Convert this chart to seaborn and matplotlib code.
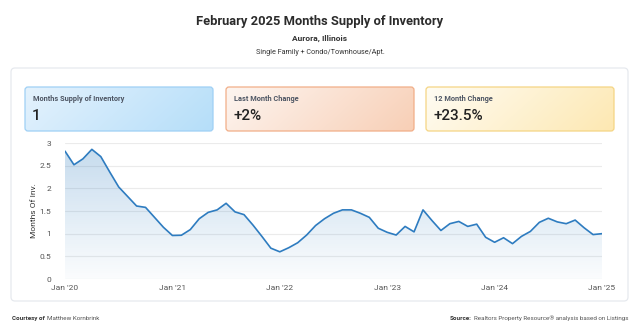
import numpy as np
import pandas as pd
import matplotlib
matplotlib.use("Agg")
import matplotlib.pyplot as plt
from matplotlib.patches import FancyBboxPatch
from matplotlib.colors import LinearSegmentedColormap
import seaborn as sns

# ---------------- data ----------------
tick_labels = ["Jan '20", "Jan '21", "Jan '22", "Jan '23", "Jan '24", "Jan '25"]
months_supply = [
    2.82, 2.52, 2.65, 2.86, 2.70, 2.36, 2.03, 1.82, 1.61, 1.58, 1.36, 1.14,   # 2020
    0.96, 0.965, 1.09, 1.33, 1.47, 1.525, 1.67, 1.48, 1.42, 1.19, 0.94, 0.68,  # 2021
    0.60, 0.69, 0.80, 0.97, 1.18, 1.33, 1.45, 1.525, 1.525, 1.45, 1.36, 1.12,  # 2022
    1.03, 0.97, 1.16, 1.04, 1.525, 1.29, 1.07, 1.22, 1.27, 1.16, 1.21, 0.92,   # 2023
    0.81, 0.91, 0.78, 0.94, 1.05, 1.25, 1.34, 1.26, 1.22, 1.30, 1.13, 0.98,    # 2024
    1.00,                                                                      # 2025
]
card_titles = ["Months Supply of Inventory", "Last Month Change", "12 Month Change"]
card_values = ["1", "+2%", "+23.5%"]
y_ticks = [0, 0.5, 1, 1.5, 2, 2.5, 3]
y_tick_labels = ["0", "0.5", "1", "1.5", "2", "2.5", "3"]

df = pd.DataFrame({"month": np.arange(len(months_supply)), "value": months_supply})

# ---------------- style ----------------
sns.set_theme(style="white")
plt.rcParams["font.family"] = ["Roboto", "DejaVu Sans"]

W, H = 640, 336
fig = plt.figure(figsize=(W / 100, H / 100), dpi=100)
fig.patch.set_facecolor("white")

# background / layout axes in pixel coordinates
bg = fig.add_axes([0, 0, 1, 1])
bg.set_xlim(0, W)
bg.set_ylim(H, 0)
bg.axis("off")

# titles
bg.text(320, 22, "February 2025 Months Supply of Inventory", ha="center", va="center",
        fontsize=9.3, fontweight="bold", color="#2b2b2b")
bg.text(320, 38, "Aurora, Illinois", ha="center", va="center",
        fontsize=6.0, fontweight="bold", color="#333333")
bg.text(320, 52, "Single Family + Condo/Townhouse/Apt.", ha="center", va="center",
        fontsize=5.2, color="#333333")

# outer card
outer = FancyBboxPatch((11, 68), 617, 233, boxstyle="round,pad=0,rounding_size=4",
                       facecolor="white", edgecolor="#e6e9ee", linewidth=0.9)
bg.add_patch(outer)

# metric cards with gradients
card_specs = [
    (25, ("#e4f2fd", "#b5def9"), "#9fd0f5"),
    (226, ("#fdf5f0", "#f8cfb6"), "#f1ae88"),
    (426, ("#fffcf3", "#fde8b2"), "#f5d584"),
]
cw, ch, cy = 188, 44, 87
for (cx, (c0, c1), ec), title, val in zip(card_specs, card_titles, card_values):
    box = FancyBboxPatch((cx, cy), cw, ch, boxstyle="round,pad=0,rounding_size=3",
                         facecolor="none", edgecolor=ec, linewidth=0.9, zorder=3)
    bg.add_patch(box)
    cmap = LinearSegmentedColormap.from_list("g", [c0, c1])
    xx = np.linspace(0, 1, 200)
    yy = np.linspace(0, 1, 50)
    grad = (xx[None, :] * 0.8 + yy[:, None] * 0.2)
    im = bg.imshow(grad, cmap=cmap, extent=(cx, cx + cw, cy + ch, cy), aspect="auto",
                   origin="upper", zorder=2, interpolation="bilinear")
    im.set_clip_path(box)
    bg.text(cx + 8, cy + 12, title, ha="left", va="center", fontsize=5.3,
            fontweight="bold", color="#4d5563", zorder=4)
    bg.text(cx + 7, cy + 28.5, val, ha="left", va="center", fontsize=11,
            fontweight="medium", color="#222222", zorder=4)

# footer (baseline-aligned, measured placement)
renderer = fig.canvas.get_renderer()
fy = 320
t1 = bg.text(12, fy, "Courtesy of", ha="left", va="baseline", fontsize=4.5,
             fontweight="bold", color="#333333")
w1 = t1.get_window_extent(renderer).width
bg.text(12 + w1 + 2, fy, "Matthew Kornbrink", ha="left", va="baseline", fontsize=4.5,
        color="#555555")
t2 = bg.text(628, fy, "Realtors Property Resource\u00ae analysis based on Listings",
             ha="right", va="baseline", fontsize=4.5, color="#555555")
w2 = t2.get_window_extent(renderer).width
bg.text(628 - w2 - 2, fy, "Source:", ha="right", va="baseline", fontsize=4.5,
        fontweight="bold", color="#333333")

# ---------------- chart ----------------
ax = fig.add_axes([65 / W, 1 - 279 / H, (602 - 65) / W, (279 - 143) / H])
ax.set_facecolor("none")

line_color = "#2e7cc0"
sns.lineplot(data=df, x="month", y="value", ax=ax, color=line_color, linewidth=1.2,
             zorder=5)

poly = ax.fill_between(df["month"], df["value"], 0, facecolor="none", edgecolor="none")
fill_cmap = LinearSegmentedColormap.from_list(
    "f", [(0.18, 0.49, 0.75, 0.28), (0.18, 0.49, 0.75, 0.02)])
gimg = ax.imshow(np.linspace(0, 1, 256)[:, None], cmap=fill_cmap, aspect="auto",
                 extent=(df["month"].min(), df["month"].max(), 0, 3.0), origin="upper",
                 zorder=3)
gimg.set_clip_path(poly.get_paths()[0], transform=ax.transData)

ax.set_xlim(df["month"].min(), df["month"].max())
ax.set_ylim(0, 3)
ax.set_yticks(y_ticks)
ax.set_yticklabels(y_tick_labels)
ax.set_xticks(np.arange(0, len(months_supply), 12))
ax.set_xticklabels(tick_labels)
ax.grid(axis="y", color="#ebebeb", linewidth=0.8, zorder=0)
ax.grid(axis="x", visible=False)
for s in ax.spines.values():
    s.set_visible(False)
ax.tick_params(axis="both", length=0, labelsize=6, labelcolor="#555555")
ax.tick_params(axis="y", pad=10)
ax.tick_params(axis="x", pad=4)
ax.set_xlabel("")
ax.set_ylabel("Months Of Inv.", fontsize=6, color="#333333", labelpad=2)

fig.savefig("out.png", dpi=100, facecolor="white")
